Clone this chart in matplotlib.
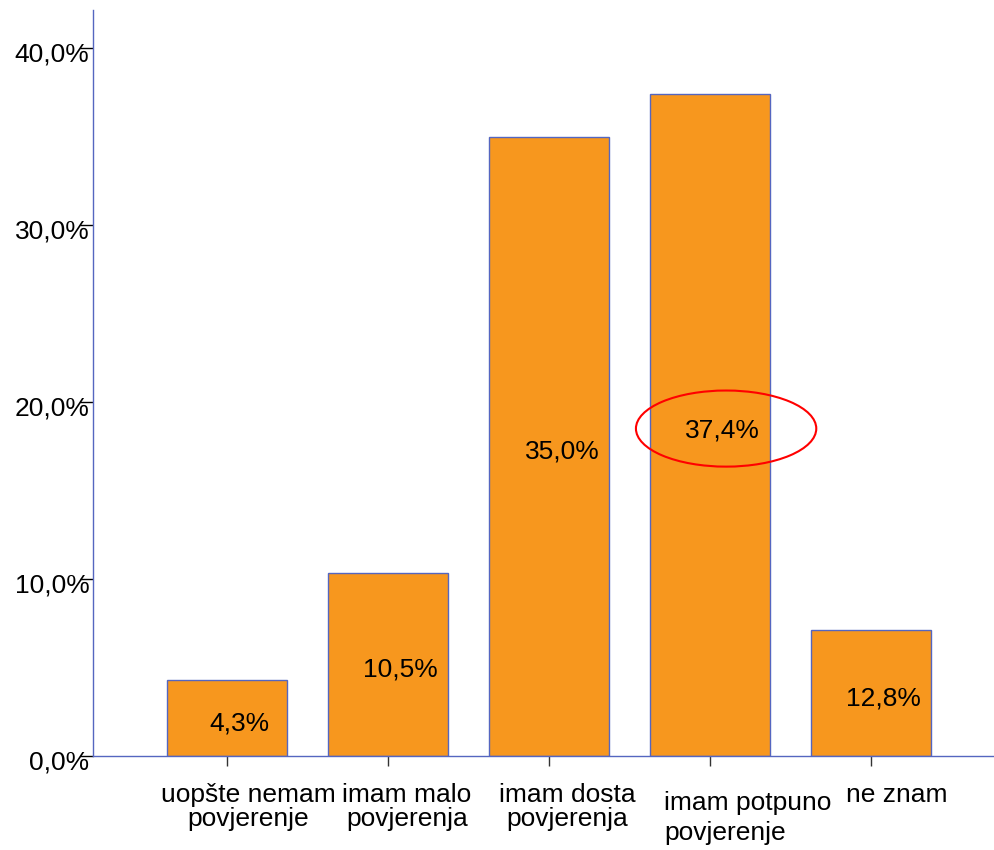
import matplotlib.pyplot as plt
import matplotlib.transforms as mtransforms
from matplotlib.patches import Ellipse

plt.rcParams['font.family'] = ['Liberation Sans', 'DejaVu Sans']

categories = [
    "uopšte nemam\npovjerenje",
    "imam malo\npovjerenja",
    "imam dosta\npovjerenja",
    "imam potpuno\npovjerenje",
    "ne znam",
]
heights = [4.3, 10.35, 35.0, 37.4, 7.1]
bar_labels = ["4,3%", "10,5%", "35,0%", "37,4%", "12,8%"]
yticks = [0, 10, 20, 30, 40]
ytick_labels = ["0,0%", "10,0%", "20,0%", "30,0%", "40,0%"]

bar_color = "#F7971E"
edge_color = "#5566C0"
fs = 19

fig = plt.figure(figsize=(9.95, 8.5), dpi=100)
ax = fig.add_axes([93 / 995, 94 / 850, 1 - 93 / 995, (756 - 10) / 850])

x = list(range(len(categories)))
ax.bar(x, heights, width=0.75, color=bar_color, edgecolor=edge_color, linewidth=1)

for i, (h, lab) in enumerate(zip(heights, bar_labels)):
    ax.text(i + 0.08, h / 2 - 0.3, lab, ha="center", va="center", fontsize=fs)

# red ellipse around the highlighted value
ax.add_patch(Ellipse((3.1, heights[3] / 2 - 0.2), 1.12, 4.3,
                     fill=False, edgecolor="red", linewidth=1.5))

ax.set_xlim(-0.832, 4.77)
ax.set_ylim(0, 42.15)

for s in ["top", "right"]:
    ax.spines[s].set_visible(False)
for s in ["left", "bottom"]:
    ax.spines[s].set_color(edge_color)
    ax.spines[s].set_linewidth(1)

ax.set_yticks(yticks)
ax.set_yticklabels(ytick_labels, fontsize=fs)
ax.tick_params(axis="y", length=9.5, width=1, color="black", pad=-7)
yoff = mtransforms.ScaledTranslation(0, -4 / 100, fig.dpi_scale_trans)
for lbl in ax.get_yticklabels():
    lbl.set_transform(lbl.get_transform() + yoff)

ax.set_xticks(x)
ax.set_xticklabels(categories, fontsize=fs, linespacing=1.0)
ax.tick_params(axis="x", length=7.5, width=1, color="#333333", pad=12)
xshift = [21, 19, 18, 0, 26]
for i, lbl in enumerate(ax.get_xticklabels()):
    dy = 0
    if i == 3:
        lbl.set_ha("left")
        lbl.set_linespacing(1.3)
        xshift[i] = 664 - 710
        dy = -8
    off = mtransforms.ScaledTranslation(xshift[i] / 100, dy / 100, fig.dpi_scale_trans)
    lbl.set_transform(lbl.get_transform() + off)

fig.savefig("out.png", dpi=100)
